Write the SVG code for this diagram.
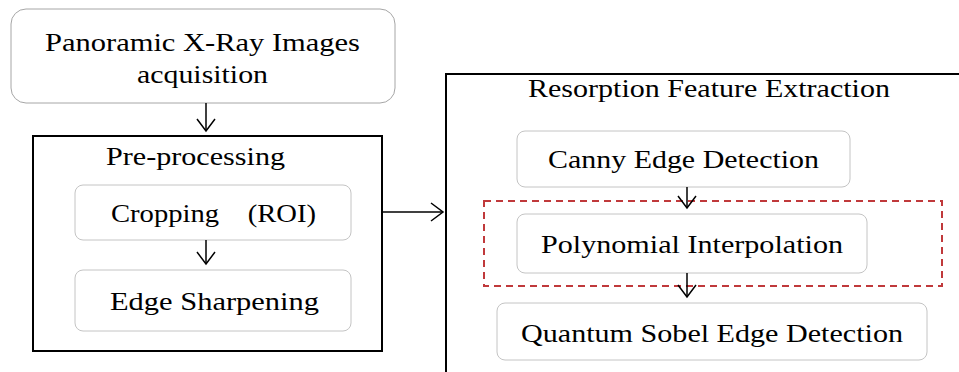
<svg xmlns="http://www.w3.org/2000/svg" width="959" height="372" viewBox="0 0 959 372">
<style>
text{font-family:"Liberation Serif","DejaVu Serif","Times New Roman",serif;font-size:26px;fill:#000}
text.cjk{font-family:"Liberation Serif","DejaVu Serif","Noto Sans CJK JP",serif}
.soft{fill:#fff;stroke:#a6a6a6;stroke-width:1}
.inner{fill:#fff;stroke:#c4c4c4;stroke-width:1}
.frame{fill:none;stroke:#000;stroke-width:2}
.conn{fill:none;stroke:#000;stroke-width:1.5}
.dash{fill:none;stroke:#c0393b;stroke-width:2;stroke-dasharray:7 5}
</style>
<defs>
<marker id="ah" markerWidth="16" markerHeight="20" refX="13" refY="10" orient="auto" markerUnits="userSpaceOnUse">
<path d="M1,1 L13,10 L1,19" fill="none" stroke="#000" stroke-width="1.5"/>
</marker>
</defs>
<rect width="959" height="372" fill="#fff"/>
<g id="acquisition">
<rect class="soft" x="11" y="9" width="384" height="94" rx="15"/>
<text x="45" y="51" textLength="315" lengthAdjust="spacingAndGlyphs">Panoramic X-Ray Images</text>
<text x="137" y="83" textLength="131" lengthAdjust="spacingAndGlyphs">acquisition</text>
</g>
<g id="preprocessing">
<rect class="frame" x="33" y="136" width="349" height="215"/>
<text x="106" y="165" textLength="179" lengthAdjust="spacingAndGlyphs">Pre-processing</text>
</g>
<g id="cropping">
<rect class="inner" x="75" y="185" width="276" height="55" rx="8"/>
<text class="cjk" x="111" y="222" textLength="205" lengthAdjust="spacingAndGlyphs">Cropping　(ROI)</text>
</g>
<g id="sharpening">
<rect class="inner" x="75" y="270" width="276" height="61" rx="8"/>
<text x="110" y="310" textLength="209" lengthAdjust="spacingAndGlyphs">Edge Sharpening</text>
</g>
<g id="extraction">
<path class="frame" d="M446,372 V74 H959"/>
<text x="528" y="97" textLength="362" lengthAdjust="spacingAndGlyphs">Resorption Feature Extraction</text>
</g>
<g id="canny">
<rect class="inner" x="517" y="131" width="333" height="56" rx="8"/>
<text x="548" y="168" textLength="271" lengthAdjust="spacingAndGlyphs">Canny Edge Detection</text>
</g>
<g id="polynomial-highlight">
<rect class="dash" x="484" y="201" width="458" height="85"/>
</g>
<g id="polynomial">
<rect class="inner" x="517" y="214" width="350" height="59" rx="8"/>
<text x="541" y="253" textLength="302" lengthAdjust="spacingAndGlyphs">Polynomial Interpolation</text>
</g>
<g id="sobel">
<rect class="inner" x="497" y="303" width="430" height="57" rx="8"/>
<text x="521" y="342" textLength="382" lengthAdjust="spacingAndGlyphs">Quantum Sobel Edge Detection</text>
</g>
<g id="connectors">
<line class="conn" x1="206" y1="103" x2="206" y2="131" marker-end="url(#ah)"/>
<line class="conn" x1="206" y1="240" x2="206" y2="264" marker-end="url(#ah)"/>
<line class="conn" x1="382" y1="212" x2="443" y2="212" marker-end="url(#ah)"/>
<line class="conn" x1="687" y1="187" x2="687" y2="208" marker-end="url(#ah)"/>
<line class="conn" x1="687" y1="273" x2="687" y2="297" marker-end="url(#ah)"/>
</g>
</svg>
